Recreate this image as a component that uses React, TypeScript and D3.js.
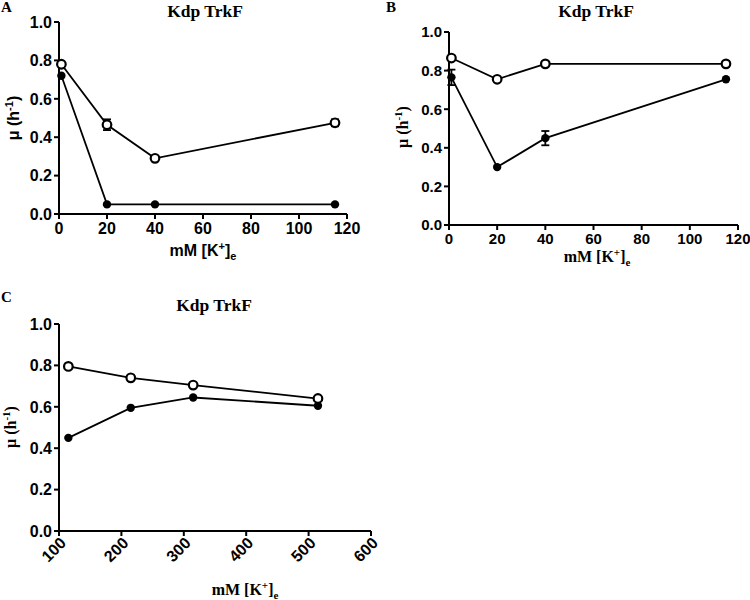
import React from "react";
import * as d3 from "d3";

// ---- Data ----
const xA = [1, 20, 40, 115];
const openA = [0.78, 0.465, 0.29, 0.475];
const openErrA = [0.01, 0.028, 0.012, 0.018];
const filledA = [0.72, 0.05, 0.05, 0.05];
const filledErrA = [0.0, 0.0, 0.0, 0.0];

const xB = [1, 20, 40, 115];
const openB = [0.865, 0.755, 0.835, 0.835];
const openErrB = [0.01, 0.01, 0.01, 0.01];
const filledB = [0.765, 0.3, 0.45, 0.755];
const filledErrB = [0.04, 0.0, 0.037, 0.0];

const xC = [115, 215, 315, 515];
const openC = [0.795, 0.74, 0.705, 0.64];
const openErrC = [0, 0, 0, 0];
const filledC = [0.45, 0.595, 0.645, 0.605];
const filledErrC = [0, 0, 0, 0];

const yTicks = [0, 0.2, 0.4, 0.6, 0.8, 1.0];
const xTicksAB = [0, 20, 40, 60, 80, 100, 120];
const xTicksC = [100, 200, 300, 400, 500, 600];

const SANS = "'Liberation Sans', Arial, sans-serif";
const SERIF = "'Liberation Serif', 'Times New Roman', serif";

type PanelProps = {
  letter: string;
  letterPos: [number, number];
  xs: number[];
  open: number[];
  openErr: number[];
  filled: number[];
  filledErr: number[];
  xDomain: [number, number];
  xTicks: number[];
  xRange: [number, number];
  yRange: [number, number];
  titlePos: [number, number];
  xLabelPos: [number, number];
  yLabelPos: [number, number];
  labelFont: string;
  tickSize: number;
  rotate?: boolean;
};

function Panel(p: PanelProps) {
  const x = d3.scaleLinear().domain(p.xDomain).range(p.xRange);
  const y = d3.scaleLinear().domain([0, 1]).range(p.yRange);
  const line = d3
    .line<number>()
    .x((_, i) => x(p.xs[i]))
    .y((d) => y(d));
  const x0 = p.xRange[0];
  const yb = p.yRange[0];
  const ytop = p.yRange[1];
  const errBar = (xi: number, v: number, e: number, key: string) => {
    if (!e) return null;
    const cx = x(xi);
    return (
      <g key={key} stroke="#000" strokeWidth={1.8}>
        <line x1={cx} x2={cx} y1={y(v - e)} y2={y(v + e)} />
        <line x1={cx - 4} x2={cx + 4} y1={y(v - e)} y2={y(v - e)} />
        <line x1={cx - 4} x2={cx + 4} y1={y(v + e)} y2={y(v + e)} />
      </g>
    );
  };
  return (
    <g>
      <text x={p.letterPos[0]} y={p.letterPos[1]} style={{ fontFamily: SERIF }} fontWeight="bold" fontSize={15}>
        {p.letter}
      </text>
      <text x={p.titlePos[0]} y={p.titlePos[1]} style={{ fontFamily: SERIF }} fontWeight="bold" fontSize={17.5} textAnchor="middle">
        Kdp TrkF
      </text>
      {/* axes */}
      <line x1={x0} x2={x0} y1={yb + 1} y2={ytop} stroke="#000" strokeWidth={2} />
      <line x1={x0 - 1} x2={p.xRange[1]} y1={yb} y2={yb} stroke="#000" strokeWidth={2} />
      {yTicks.map((t) => (
        <g key={"y" + t}>
          <line x1={x0 - 5} x2={x0} y1={y(t)} y2={y(t)} stroke="#000" strokeWidth={2} />
          <text
            x={x0 - 7}
            y={y(t)}
            dy="0.36em"
            textAnchor="end"
            style={{ fontFamily: SANS }}
            fontWeight="bold"
            fontSize={p.tickSize}
          >
            {t.toFixed(1)}
          </text>
        </g>
      ))}
      {p.xTicks.map((t) => (
        <g key={"x" + t}>
          <line x1={x(t)} x2={x(t)} y1={yb} y2={yb + 5} stroke="#000" strokeWidth={2} />
          {p.rotate ? (
            <text
              transform={`translate(${x(t) + 4},${yb + 9}) rotate(-45)`}
              textAnchor="end"
              dy="0.36em"
              style={{ fontFamily: SANS }}
              fontWeight="bold"
              fontSize={p.tickSize}
            >
              {t}
            </text>
          ) : (
            <text
              x={x(t)}
              y={yb + 8}
              dy="0.75em"
              textAnchor="middle"
              style={{ fontFamily: SANS }}
              fontWeight="bold"
              fontSize={p.tickSize}
            >
              {t}
            </text>
          )}
        </g>
      ))}
      {/* axis labels */}
      <text
        x={p.xLabelPos[0]}
        y={p.xLabelPos[1]}
        textAnchor="middle"
        style={{ fontFamily: p.labelFont }}
        fontWeight="bold"
        fontSize={16}
      >
        mM [K<tspan dy={-6} fontSize={11}>+</tspan>
        <tspan dy={6}>]</tspan>
        <tspan dy={4} fontSize={11}>e</tspan>
      </text>
      <text
        transform={`translate(${p.yLabelPos[0]},${p.yLabelPos[1]}) rotate(-90)`}
        textAnchor="middle"
        style={{ fontFamily: p.labelFont }}
        fontWeight="bold"
        fontSize={16}
      >
        μ (h<tspan dy={-6} fontSize={11}>-1</tspan>
        <tspan dy={6}>)</tspan>
      </text>
      {/* lines */}
      <path d={line(p.open) || ""} fill="none" stroke="#000" strokeWidth={1.8} />
      <path d={line(p.filled) || ""} fill="none" stroke="#000" strokeWidth={1.8} />
      {p.open.map((v, i) => errBar(p.xs[i], v, p.openErr[i], "oe" + i))}
      {p.filled.map((v, i) => errBar(p.xs[i], v, p.filledErr[i], "fe" + i))}
      {p.filled.map((v, i) => (
        <circle key={"f" + i} cx={x(p.xs[i])} cy={y(v)} r={4.2} fill="#000" />
      ))}
      {p.open.map((v, i) => (
        <circle key={"o" + i} cx={x(p.xs[i])} cy={y(v)} r={4.3} fill="#fff" stroke="#000" strokeWidth={2.2} />
      ))}
    </g>
  );
}

export default function App() {
  return (
    <svg width={750} height={600} style={{ position: "absolute", left: 0, top: 0, background: "#fff" }}>
      <rect width={750} height={600} fill="#fff" />
      <Panel
        letter="A"
        letterPos={[1, 12]}
        xs={xA}
        open={openA}
        openErr={openErrA}
        filled={filledA}
        filledErr={filledErrA}
        xDomain={[0, 120]}
        xTicks={xTicksAB}
        xRange={[59, 347]}
        yRange={[214, 22]}
        titlePos={[205, 17]}
        xLabelPos={[203, 256]}
        yLabelPos={[19, 118]}
        labelFont={SANS}
        tickSize={16}
      />
      <Panel
        letter="B"
        letterPos={[386, 12]}
        xs={xB}
        open={openB}
        openErr={openErrB}
        filled={filledB}
        filledErr={filledErrB}
        xDomain={[0, 120]}
        xTicks={xTicksAB}
        xRange={[449, 738]}
        yRange={[225, 32]}
        titlePos={[596, 17]}
        xLabelPos={[597, 262]}
        yLabelPos={[408, 127]}
        labelFont={SERIF}
        tickSize={15}
      />
      <Panel
        letter="C"
        letterPos={[1, 302]}
        xs={xC}
        open={openC}
        openErr={openErrC}
        filled={filledC}
        filledErr={filledErrC}
        xDomain={[100, 600]}
        xTicks={xTicksC}
        xRange={[59, 371]}
        yRange={[531, 324]}
        titlePos={[214, 311]}
        xLabelPos={[245, 595]}
        yLabelPos={[16, 427]}
        labelFont={SERIF}
        tickSize={16}
        rotate
      />
    </svg>
  );
}
